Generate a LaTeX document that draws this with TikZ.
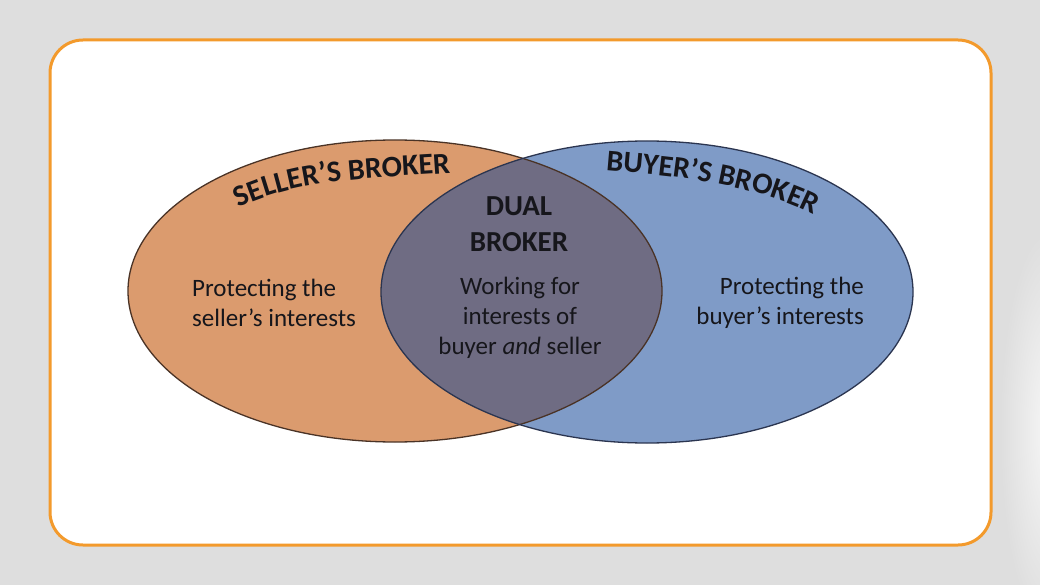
\documentclass[tikz,border=0pt]{standalone}
\usepackage{fontspec}
\setmainfont{Carlito}
\usetikzlibrary{decorations.text}
\definecolor{bgc}{HTML}{DEDEDE}
\definecolor{framec}{HTML}{F39A2C}
\definecolor{sellc}{HTML}{DB9B6E}
\definecolor{buyc}{HTML}{7F9BC7}
\definecolor{dualc}{HTML}{6F6C83}
\definecolor{sellline}{HTML}{4A3326}
\definecolor{buyline}{HTML}{2B3550}
\definecolor{txt}{HTML}{16161B}
\begin{document}
\begin{tikzpicture}[x=1pt,y=-1pt,
  body/.style={font=\fontsize{25}{30}\selectfont, text=txt, inner sep=0pt},
  head/.style={font=\bfseries\fontsize{29}{36}\selectfont, text=txt, inner sep=0pt},
  arctext/.style={decorate, decoration={text along path, text align=center, text color=txt, text={|\bfseries\fontsize{30}{36}\selectfont|#1}}}]
\fill[bgc] (0,0) rectangle (1040,585);
\useasboundingbox (0,0) rectangle (1040,585);
\begin{scope}
  \clip (993,0) rectangle (1040,585);
  \shade[inner color=white!75!bgc, outer color=bgc] (1050,430) ellipse [x radius=50pt, y radius=200pt];
\end{scope}
\draw[framec, line width=3pt, fill=white, rounded corners=33pt] (50,40) rectangle (991,545);
% ellipses
\fill[sellc] (395,291) ellipse [x radius=267pt, y radius=151pt];
\fill[buyc] (647,292) ellipse [x radius=266pt, y radius=151pt];
\begin{scope}
  \clip (395,291) ellipse [x radius=267pt, y radius=151pt];
  \fill[dualc] (647,292) ellipse [x radius=266pt, y radius=151pt];
\end{scope}
\draw[sellline, line width=1.3pt] (395,291) ellipse [x radius=267pt, y radius=151pt];
\draw[buyline, line width=1.3pt] (647,292) ellipse [x radius=266pt, y radius=151pt];
% curved headings
\path[arctext={SELLER’S BROKER}] (228,213) .. controls (299,175) and (382,179) .. (462,172);
\path[arctext={BUYER’S BROKER}] (590,169) .. controls (670,176) and (756,181) .. (828,222);
% texts
\node[head, align=center] (dualh) at (519,224) {DUAL\\BROKER};
\node[body, align=left, anchor=west] (sellt) at (192,303) {Protecting the\\seller’s interests};
\node[body, align=right, anchor=east] (buyt) at (864,303) {Protecting the\\buyer’s interests};
\node[body, align=center] (dualt) at (520,318) {Working for\\interests of\\buyer \textit{and} seller};
\end{tikzpicture}
\end{document}
